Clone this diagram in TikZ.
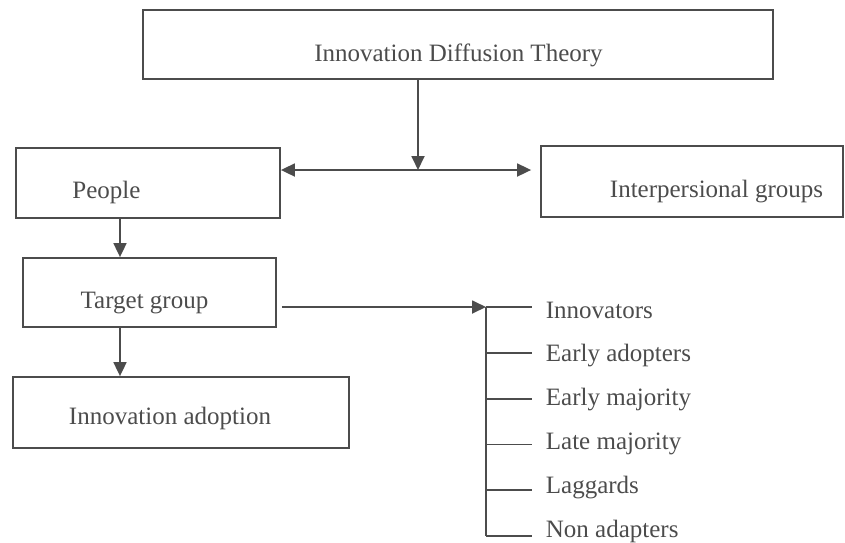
\documentclass[tikz,border=0pt]{standalone}
\usepackage{fontspec}
\setmainfont{Liberation Serif}
\usetikzlibrary{arrows.meta}
\definecolor{ink}{gray}{0.3}

\begin{document}
\begin{tikzpicture}[x=1pt, y=-1pt, line width=1.8pt, color=ink,
    font=\fontsize{25}{30}\selectfont,
    box/.style={draw, inner sep=0pt},
    txt/.style={anchor=base, inner sep=0pt},
    arr/.style={-{Triangle[length=14pt,width=13pt]}}]
    \useasboundingbox (0,0) rectangle (845,542);

    % Kaesten.
    \node[box, minimum width=630pt, minimum height=69pt] (theory) at (458,44.5) {};
    \node[txt] (theory-t) at (458.5,61) {Innovation Diffusion Theory};

    \node[box, minimum width=264pt, minimum height=70pt] (people) at (148,183) {};
    \node[txt] (people-t) at (106.5,198) {People};

    \node[box, minimum width=302pt, minimum height=71pt] (interp) at (692,181.5) {};
    \node[txt] (interp-t) at (716.5,197) {Interpersional groups};

    \node[box, minimum width=253pt, minimum height=69pt] (target) at (149.5,292.5) {};
    \node[txt] (target-t) at (144.5,308) {Target group};

    \node[box, minimum width=336pt, minimum height=71pt] (adoption) at (181,412.5) {};
    \node[txt] (adoption-t) at (170,424) {Innovation adoption};

    % Pfeile.
    \coordinate (join) at (418,170);
    \coordinate (col) at (120,0);
    \coordinate (brk) at (486,307);
    \draw[arr] (theory.south -| join) -- (join);
    \draw[{Triangle[length=14pt,width=13pt]}-{Triangle[length=14pt,width=13pt]}, shorten >=9pt]
        (people.east |- join) -- (interp.west |- join);
    \draw[arr] (people.south -| col) -- (target.north -| col);
    \draw[arr] (target.south -| col) -- (adoption.north -| col);
    \draw[arr, shorten <=5pt] (target.east |- brk) -- (brk);

    % Gruppen.
    \foreach \name [count=\i from 0] in {Innovators, Early adopters, Early majority,
        Late majority, Laggards, Non adapters}
    {
        \coordinate (t\i) at (486,307+45.8*\i);
        \node[anchor=base west, inner sep=0pt] (grp\i) at (545,318+43.8*\i) {\name};
        \draw (t\i) -- ([xshift=-13pt]grp\i.west |- t\i);
    }
    \draw (brk) -- (t5);
\end{tikzpicture}
\end{document}
